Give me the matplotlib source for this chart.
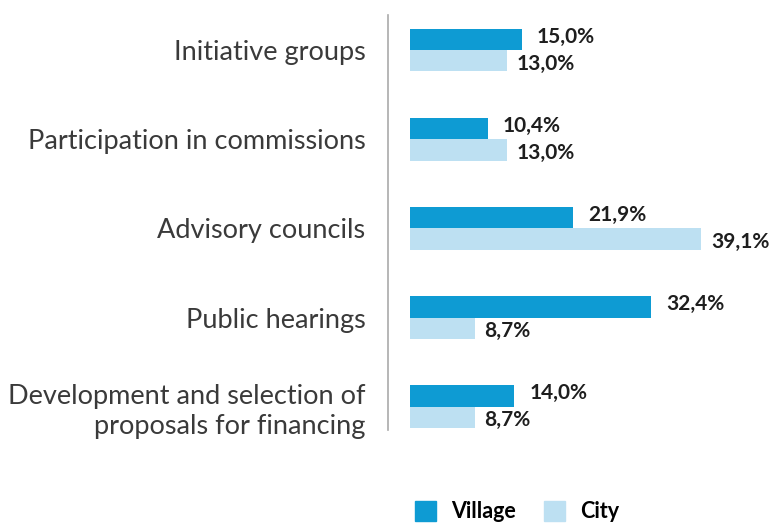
import matplotlib.pyplot as plt
import numpy as np
from matplotlib.patches import Patch

categories = ["Initiative groups", "Participation in commissions", "Advisory councils",
              "Public hearings", "Development and selection of\nproposals for financing"]
village = [15.0, 10.4, 21.9, 32.4, 14.0]
city = [13.0, 13.0, 39.1, 8.7, 8.7]

village_color = "#0e9bd3"
city_color = "#bde0f2"

plt.rcParams['font.family'] = ['Lato', 'DejaVu Sans']

fig = plt.figure(figsize=(7.74, 5.25), dpi=100)
ax = fig.add_axes([0.501, 0.181, 0.481, 0.79])

y = np.arange(len(categories))
h = 0.24
ax.barh(y - h / 2, village, height=h, color=village_color)
ax.barh(y + h / 2, city, height=h, color=city_color)

for yi, v, c in zip(y, village, city):
    ax.annotate(f"{v:.1f}%".replace(".", ","), (v, yi - h / 2), xytext=(11, 2),
                textcoords="offset points", va="center", ha="left",
                fontsize=15, fontweight="bold", color="#1e1e1e")
    ax.annotate(f"{c:.1f}%".replace(".", ","), (c, yi + h / 2), xytext=(7, -2),
                textcoords="offset points", va="center", ha="left",
                fontsize=15, fontweight="bold", color="#1e1e1e")

ax.set_xlim(-3, 47)
ax.set_ylim(4.26, -0.39)
ax.set_yticks(y)
ax.set_yticklabels(categories, fontsize=19.5, color="#3a3a3a", ha="right",
                   linespacing=1.25)
ax.tick_params(axis="y", length=0, pad=16)
ax.set_xticks([])
for s in ["top", "right", "bottom"]:
    ax.spines[s].set_visible(False)
ax.spines["left"].set_color("#aaaaaa")
ax.spines["left"].set_linewidth(1.2)

handles = [Patch(color=village_color, label="Village"), Patch(color=city_color, label="City")]
fig.legend(handles=handles, loc="center", bbox_to_anchor=(0.668, 0.025), ncol=2,
           frameon=False, handlelength=1.0, handleheight=1.0, columnspacing=1.3,
           handletextpad=0.7, prop={"weight": "bold", "size": 15.5})

fig.savefig("out.png", dpi=100)
